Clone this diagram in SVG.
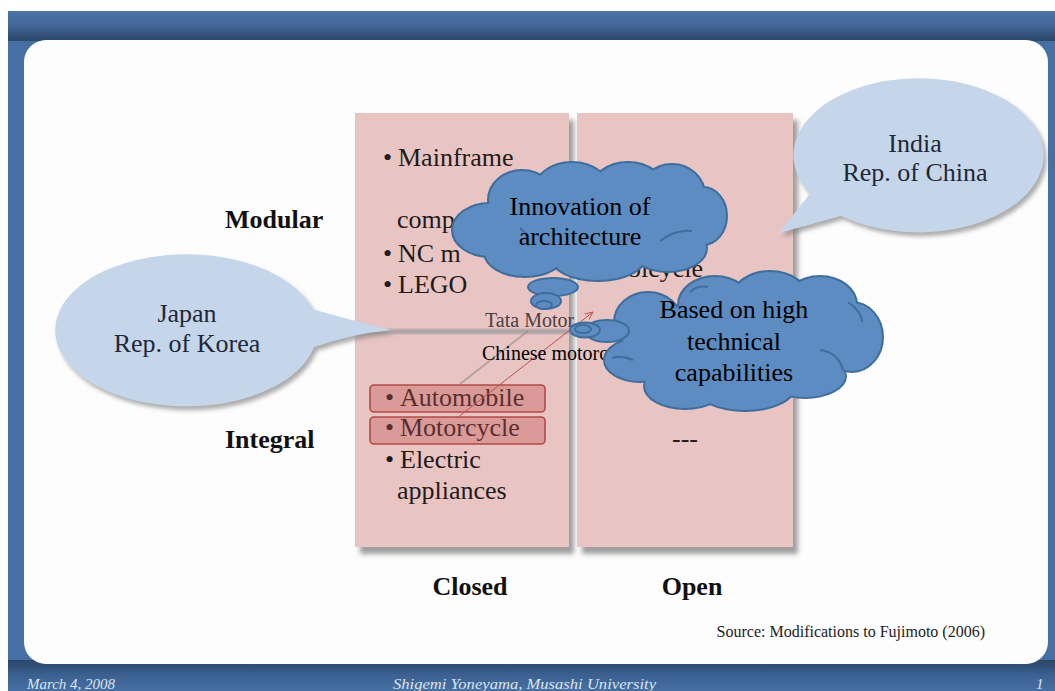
<svg xmlns="http://www.w3.org/2000/svg" xmlns:xlink="http://www.w3.org/1999/xlink" width="1055" height="691" viewBox="0 0 1055 691">
  <defs>
    <linearGradient id="topBand" x1="0" y1="0" x2="0" y2="1">
      <stop offset="0" stop-color="#4b74a8"/>
      <stop offset="0.45" stop-color="#44699a"/>
      <stop offset="1" stop-color="#2b4669"/>
    </linearGradient>
    <linearGradient id="botBand" x1="0" y1="0" x2="0" y2="1">
      <stop offset="0" stop-color="#2b4669"/>
      <stop offset="0.5" stop-color="#3c6192"/>
      <stop offset="1" stop-color="#4670a3"/>
    </linearGradient>
    <filter id="boxShadow" x="-10%" y="-10%" width="130%" height="130%">
      <feGaussianBlur in="SourceAlpha" stdDeviation="2.5"/>
      <feOffset dx="5" dy="7" result="b"/>
      <feFlood flood-color="#7f7f7f" flood-opacity="0.75"/>
      <feComposite in2="b" operator="in"/>
      <feMerge><feMergeNode/><feMergeNode in="SourceGraphic"/></feMerge>
    </filter>
    <filter id="calloutShadow" x="-10%" y="-10%" width="130%" height="130%">
      <feGaussianBlur in="SourceAlpha" stdDeviation="2"/>
      <feOffset dx="3" dy="4" result="b"/>
      <feFlood flood-color="#808080" flood-opacity="0.65"/>
      <feComposite in2="b" operator="in"/>
      <feMerge><feMergeNode/><feMergeNode in="SourceGraphic"/></feMerge>
    </filter>
    <filter id="soft"><feGaussianBlur stdDeviation="1.2"/></filter>
    <marker id="openArrow" viewBox="0 0 10 10" refX="9" refY="5" markerWidth="9" markerHeight="9" markerUnits="userSpaceOnUse" orient="auto">
      <path d="M0,1 L9,5 L0,9" fill="none" stroke="#c0504d" stroke-width="1"/>
    </marker>
    <!-- cloud lobes: drawn once thick as outline, once filled on top -->
    <g id="lobesInnovation">
      <ellipse cx="490" cy="230" rx="37" ry="26"/>
      <ellipse cx="522" cy="200" rx="33" ry="29"/>
      <ellipse cx="572" cy="192" rx="38" ry="29"/>
      <ellipse cx="628" cy="190" rx="36" ry="27"/>
      <ellipse cx="672" cy="195" rx="32" ry="30"/>
      <ellipse cx="703" cy="216" rx="23" ry="28"/>
      <ellipse cx="668" cy="248" rx="38" ry="23"/>
      <ellipse cx="598" cy="255" rx="48" ry="25"/>
      <ellipse cx="525" cy="252" rx="40" ry="24"/>
      <ellipse cx="592" cy="225" rx="105" ry="38"/>
    </g>
    <g id="lobesBased">
      <ellipse cx="648" cy="322" rx="33" ry="29"/>
      <ellipse cx="640" cy="360" rx="35" ry="21"/>
      <ellipse cx="685" cy="386" rx="40" ry="22"/>
      <ellipse cx="745" cy="388" rx="48" ry="22"/>
      <ellipse cx="805" cy="376" rx="40" ry="21"/>
      <ellipse cx="852" cy="337" rx="30" ry="34"/>
      <ellipse cx="820" cy="305" rx="36" ry="28"/>
      <ellipse cx="770" cy="300" rx="38" ry="28"/>
      <ellipse cx="715" cy="305" rx="36" ry="28"/>
      <ellipse cx="745" cy="342" rx="105" ry="45"/>
    </g>
    <style>
      .serif { font-family: "Liberation Serif", "Times New Roman", serif; }
      .item { font-size: 26px; fill: #231a1a; }
      .axis { font-size: 26px; font-weight: bold; fill: #111; }
      .callout-body { fill: #c6d6ea; }
      .callout-text { font-size: 26px; fill: #1e2836; text-anchor: middle; }
      .cloud-edge { fill: #3f6e9d; stroke: #3f6e9d; stroke-width: 4; }
      .cloud-body { fill: #5d8cc2; stroke: none; }
      .bubble { fill: #5d8cc2; stroke: #3f6e9d; stroke-width: 2; }
      .cloud-line { fill: none; stroke: #3f6e9d; stroke-width: 2; }
      .cloud-text { font-size: 26px; fill: #000; text-anchor: middle; }
      .pink { fill: #e8c4c3; }
      .mark { fill: #c0504d; fill-opacity: 0.36; stroke: #b24a48; stroke-width: 1.6; }
      .footer { font-size: 15px; font-style: italic; fill: #dde4ee; }
    </style>
  </defs>

  <!-- slide frame -->
  <g id="frame">
    <rect x="0" y="0" width="1055" height="691" fill="#ffffff"/>
    <rect x="8" y="11" width="1047" height="680" fill="#4670a3"/>
    <rect x="8" y="11" width="1047" height="30" fill="url(#topBand)"/>
    <rect x="8" y="660" width="1047" height="31" fill="url(#botBand)"/>
    <rect x="24" y="40" width="1024" height="624" rx="22" ry="22" fill="#fdfdfd"/>
  </g>

  <!-- matrix columns -->
  <g id="col-closed">
    <rect class="pink" x="355" y="113" width="214" height="434" filter="url(#boxShadow)"/>
    <rect x="356" y="329" width="216" height="5" fill="#ada4a4" filter="url(#soft)"/>
  </g>
  <g id="col-open">
    <rect class="pink" x="577" y="113" width="216" height="434" filter="url(#boxShadow)"/>
  </g>

  <!-- closed column items -->
  <g id="items-closed" class="serif item">
    <text x="383" y="166">•<tspan x="398">Mainframe</tspan></text>
    <text x="397" y="228">comp</text>
    <text x="383" y="262">•<tspan x="398">NC m</tspan></text>
    <text x="383" y="293">•<tspan x="398">LEGO</tspan></text>
    <text x="385" y="406">•<tspan x="400">Automobile</tspan></text>
    <text x="385" y="436">•<tspan x="400">Motorcycle</tspan></text>
    <text x="385" y="468">•<tspan x="400">Electric</tspan></text>
    <text x="397" y="499">appliances</text>
  </g>
  <g id="marks">
    <rect class="mark" x="370" y="385" width="175" height="27" rx="4"/>
    <rect class="mark" x="370" y="417" width="175" height="27" rx="4"/>
  </g>

  <!-- open column items -->
  <g id="items-open" class="serif item">
    <text x="628" y="277">bicycle</text>
    <text x="672" y="447">---</text>
  </g>

  <!-- axis labels -->
  <g id="axis-labels" class="serif axis">
    <text x="225" y="228">Modular</text>
    <text x="225" y="448">Integral</text>
    <text x="470" y="595" text-anchor="middle">Closed</text>
    <text x="692" y="595" text-anchor="middle">Open</text>
  </g>

  <!-- callout: Japan / Korea -->
  <g id="callout-japan" filter="url(#calloutShadow)">
    <path class="callout-body" d="M312,309 A131,76 0 1 0 314,347 Q350,334 392,330 Q350,320 312,309 Z"/>
  </g>
  <g id="callout-japan-text" class="serif callout-text">
    <text x="187" y="322">Japan</text>
    <text x="187" y="352">Rep. of Korea</text>
  </g>

  <!-- callout: India / China -->
  <g id="callout-india" filter="url(#calloutShadow)">
    <path class="callout-body" d="M810,193.5 A125,77 0 1 1 841,215.7 L779,233 Z"/>
  </g>
  <g id="callout-india-text" class="serif callout-text">
    <text x="915" y="152">India</text>
    <text x="915" y="181">Rep. of China</text>
  </g>

  <!-- connectors -->
  <g id="connectors">
    <line x1="460" y1="384" x2="528" y2="331" stroke="#9a8f8f" stroke-width="1.6" stroke-opacity="0.7"/>
    <line x1="457" y1="418" x2="593" y2="312" stroke="#c0504d" stroke-width="1" marker-end="url(#openArrow)"/>
  </g>

  <!-- case labels -->
  <g id="cases" class="serif">
    <text x="485" y="327" font-size="20" fill="#4d4040">Tata Motor</text>
    <text x="482" y="360" font-size="20" fill="#000">Chinese motorc</text>
  </g>

  <!-- thought cloud: architecture -->
  <g id="cloud-innovation">
    <use xlink:href="#lobesInnovation" class="cloud-edge"/>
    <use xlink:href="#lobesInnovation" class="cloud-body"/>
    <path class="cloud-line" d="M660,241 Q676,229 692,231"/>
    <path class="cloud-line" d="M520,228 Q530,236 528,246"/>
    <ellipse class="bubble" cx="553" cy="287" rx="25" ry="9"/>
    <ellipse class="bubble" cx="546" cy="301" rx="15" ry="8"/>
    <ellipse class="bubble" cx="544" cy="305" rx="8" ry="4"/>
    <text class="serif cloud-text" x="580" y="215">Innovation of</text>
    <text class="serif cloud-text" x="580" y="245">architecture</text>
  </g>

  <!-- thought cloud: capabilities -->
  <g id="cloud-based">
    <use xlink:href="#lobesBased" class="cloud-edge"/>
    <use xlink:href="#lobesBased" class="cloud-body"/>
    <path class="cloud-line" d="M612,358 Q622,355 633,360"/>
    <path class="cloud-line" d="M690,292 Q697,285 708,287"/>
    <path class="cloud-line" d="M820,350 Q838,352 843,370"/>
    <path class="cloud-line" d="M848,302 Q862,312 862,322"/>
    <ellipse class="bubble" cx="607" cy="331" rx="22" ry="11"/>
    <ellipse class="bubble" cx="585" cy="330" rx="15" ry="7.5"/>
    <ellipse class="bubble" cx="583" cy="329" rx="8" ry="4"/>
    <text class="serif cloud-text" x="734" y="318">Based on high</text>
    <text class="serif cloud-text" x="734" y="350">technical</text>
    <text class="serif cloud-text" x="734" y="381">capabilities</text>
  </g>

  <!-- source note -->
  <g id="source">
    <text class="serif" x="985" y="637" font-size="16" fill="#222" text-anchor="end">Source: Modifications to Fujimoto (2006)</text>
  </g>

  <!-- footer -->
  <g id="footer" class="serif footer">
    <text x="27" y="689" textLength="88" lengthAdjust="spacingAndGlyphs">March 4, 2008</text>
    <text x="393" y="689" textLength="263" lengthAdjust="spacingAndGlyphs">Shigemi Yoneyama, Musashi University</text>
    <text x="1036" y="689">1</text>
  </g>
</svg>
